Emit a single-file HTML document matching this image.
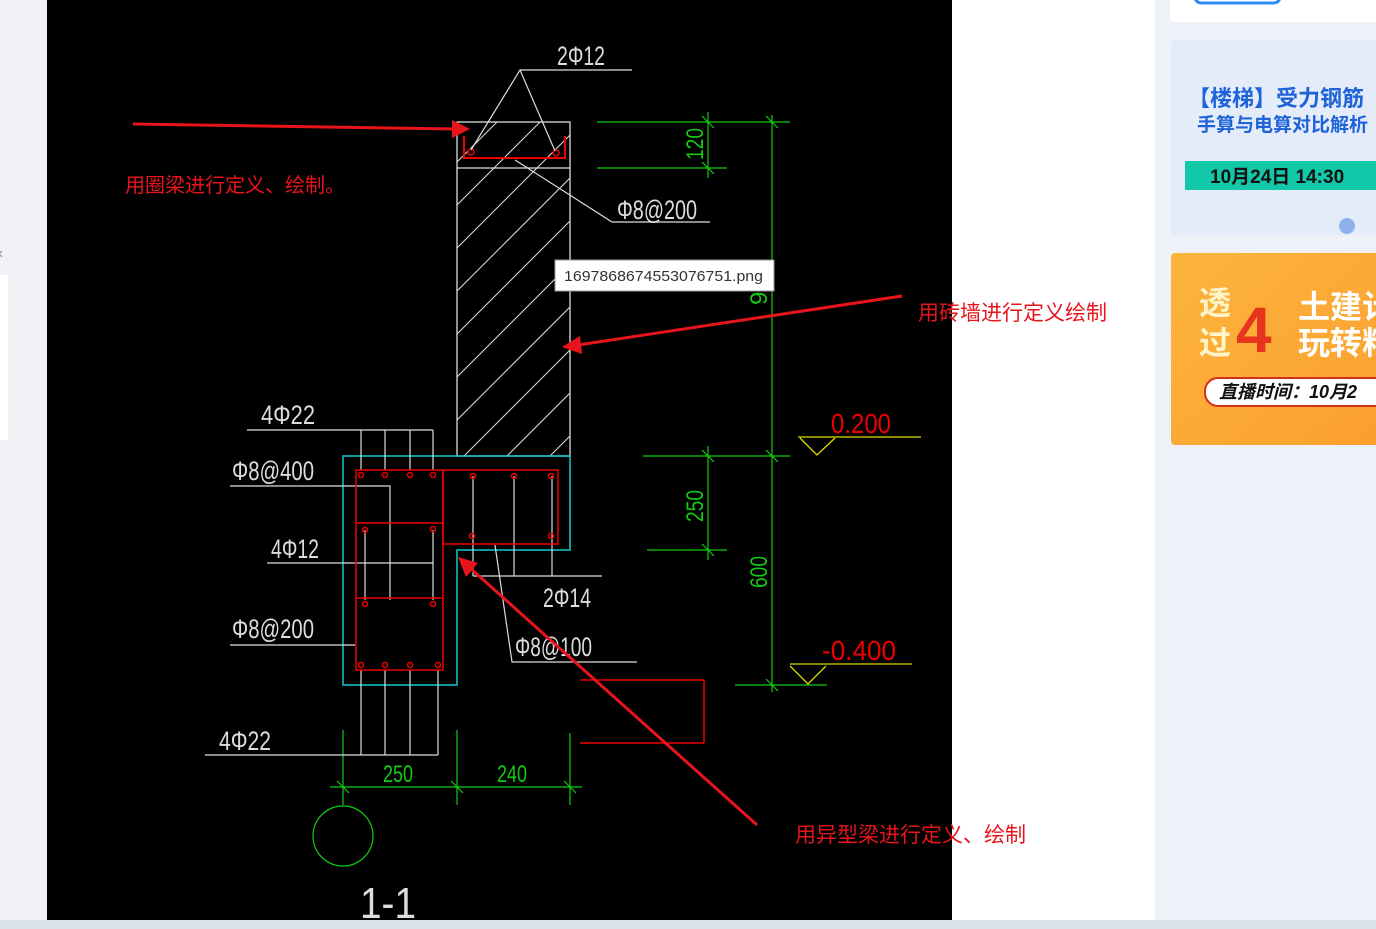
<!DOCTYPE html>
<html><head><meta charset="utf-8"><style>
html,body{margin:0;padding:0;width:1376px;height:929px;overflow:hidden;background:#eef1f8;}
svg{display:block}
.cad{font-family:"Liberation Sans Narrow","Liberation Sans",sans-serif;}
.cn{font-family:"Liberation Sans","Noto Sans CJK SC",sans-serif;}
</style></head><body>
<svg width="1376" height="929" viewBox="0 0 1376 929" xmlns="http://www.w3.org/2000/svg">
<defs>
<clipPath id="wall"><rect x="457" y="122" width="113" height="334"/></clipPath>
<linearGradient id="og" x1="0" y1="0" x2="1" y2="1"><stop offset="0" stop-color="#fcb53d"/><stop offset="1" stop-color="#fb9f2e"/></linearGradient>
</defs>
<rect x="0" y="0" width="1376" height="929" fill="#eef1f8"/>
<rect x="0" y="0" width="47" height="920" fill="#f0f2f6"/>
<rect x="0" y="275" width="8" height="165" fill="#fff"/>
<text x="-2" y="258" font-size="16" fill="#999" class="cad">‹</text>
<rect x="952" y="0" width="203" height="920" fill="#fff"/>
<rect x="0" y="920" width="1376" height="9" fill="#dde3ea"/>
<rect x="47" y="0" width="905" height="920" fill="#000"/>

<rect x="1170" y="-10" width="220" height="32" rx="4" fill="#fff"/>
<rect x="1195" y="-10" width="85" height="13" rx="6" fill="none" stroke="#2a8cf0" stroke-width="3"/>
<rect x="1171" y="40" width="210" height="195" rx="4" fill="#e4ecfa"/>
<text x="1188" y="106" font-size="22" font-weight="bold" fill="#1f63d8" class="cn">【楼梯】受力钢筋</text>
<text x="1197" y="131" font-size="19" font-weight="bold" fill="#1f63d8" class="cn">手算与电算对比解析</text>
<rect x="1185" y="161" width="195" height="29" fill="#12c8a8"/>
<text x="1210" y="183" font-size="19" font-weight="bold" fill="#111" class="cn">10月24日 14:30</text>
<circle cx="1347" cy="226" r="8" fill="#8fb1ee"/>
<rect x="1171" y="253" width="210" height="192" rx="4" fill="url(#og)"/>
<text x="1199" y="314" font-size="32" font-weight="bold" fill="#fff4c9" class="cn">透</text>
<text x="1199" y="354" font-size="32" font-weight="bold" fill="#fff4c9" class="cn">过</text>
<text x="1236" y="352" font-size="64" font-weight="bold" fill="#e8341c" class="cn">4</text>
<text x="1298" y="318" font-size="32" font-weight="bold" fill="#fff" class="cn">土建计</text>
<text x="1298" y="354" font-size="32" font-weight="bold" fill="#fff" class="cn">玩转料</text>
<rect x="1205" y="378" width="185" height="28" rx="13" fill="#fff" stroke="#d3301c" stroke-width="2"/>
<text x="1219" y="398" font-size="18" font-weight="bold" font-style="italic" fill="#111" class="cn">直播时间：10月2</text>

<g clip-path="url(#wall)" stroke="#ddd" stroke-width="1">
<line x1="420" y1="500" x2="800" y2="120"/>
<line x1="420" y1="457" x2="800" y2="77"/>
<line x1="420" y1="414" x2="800" y2="34"/>
<line x1="420" y1="371" x2="800" y2="-9"/>
<line x1="420" y1="328" x2="800" y2="-52"/>
<line x1="420" y1="285" x2="800" y2="-95"/>
<line x1="420" y1="242" x2="800" y2="-138"/>
<line x1="420" y1="199" x2="800" y2="-181"/>
<line x1="420" y1="543" x2="800" y2="163"/>
<line x1="420" y1="586" x2="800" y2="206"/>
<line x1="420" y1="629" x2="800" y2="249"/>
<line x1="420" y1="672" x2="800" y2="292"/>
<line x1="420" y1="715" x2="800" y2="335"/>
<line x1="420" y1="758" x2="800" y2="378"/>
<line x1="420" y1="801" x2="800" y2="421"/>
</g>
<g fill="none" stroke="#ddd" stroke-width="1.3">
<rect x="457" y="122" width="113" height="334"/>
<line x1="457" y1="168" x2="570" y2="168"/>
</g>
<path d="M464 136 V158 H565 V136" fill="none" stroke="#e00" stroke-width="2"/>
<circle cx="471" cy="152" r="3" fill="none" stroke="#e00" stroke-width="1.5"/>
<circle cx="556" cy="153" r="3" fill="none" stroke="#e00" stroke-width="1.5"/>
<g stroke="#ddd" stroke-width="1.2" fill="none">
<polyline points="471,150 520,70 555,151"/>
<line x1="520" y1="70" x2="632" y2="70"/>
<line x1="515" y1="160" x2="612" y2="222"/>
<line x1="612" y1="222" x2="710" y2="222"/>
</g>
<text x="557" y="65" font-size="27" fill="#ddd" class="cad" textLength="48" lengthAdjust="spacingAndGlyphs">2Φ12</text>
<text x="617" y="219" font-size="27" fill="#ddd" class="cad" textLength="80" lengthAdjust="spacingAndGlyphs">Φ8@200</text>

<g stroke="#1c1" stroke-width="1.2" fill="none">
<line x1="772" y1="115" x2="772" y2="692"/>
<line x1="597" y1="122" x2="790" y2="122"/>
<line x1="597" y1="168" x2="727" y2="168"/>
<line x1="708" y1="112" x2="708" y2="178"/>
<line x1="643" y1="456" x2="790" y2="456"/>
<line x1="647" y1="550" x2="727" y2="550"/>
<line x1="708" y1="446" x2="708" y2="560"/>
<line x1="735" y1="685" x2="827" y2="685"/>
<line x1="343" y1="730" x2="343" y2="805"/>
<line x1="457" y1="730" x2="457" y2="805"/>
<line x1="570" y1="733" x2="570" y2="805"/>
<line x1="330" y1="787" x2="582" y2="787"/>
<circle cx="343" cy="836" r="30"/>
<path d="M702 116l12 12M766 116l12 12M702 162l12 12M766 450l12 12M702 450l12 12M702 544l12 12M766 679l12 12M337 781l12 12M451 781l12 12M564 781l12 12"/>
</g>
<text font-size="24" fill="#1c1" class="cad" transform="translate(703,160) rotate(-90)" textLength="32" lengthAdjust="spacingAndGlyphs">120</text>
<text font-size="24" fill="#1c1" class="cad" transform="translate(703,522) rotate(-90)" textLength="32" lengthAdjust="spacingAndGlyphs">250</text>
<text font-size="24" fill="#1c1" class="cad" transform="translate(767,588) rotate(-90)" textLength="32" lengthAdjust="spacingAndGlyphs">600</text>
<text font-size="24" fill="#1c1" class="cad" transform="translate(767,305) rotate(-90)">90</text>
<text x="383" y="782" font-size="24" fill="#1c1" class="cad" textLength="30" lengthAdjust="spacingAndGlyphs">250</text>
<text x="497" y="782" font-size="24" fill="#1c1" class="cad" textLength="30" lengthAdjust="spacingAndGlyphs">240</text>

<text x="831" y="433" font-size="28" fill="#e00" class="cad" textLength="60" lengthAdjust="spacingAndGlyphs">0.200</text>
<g stroke="#dd0" stroke-width="1.3" fill="none">
<line x1="798" y1="437" x2="921" y2="437"/>
<polyline points="800,438 817,455 835,438"/>
<line x1="790" y1="664" x2="912" y2="664"/>
<polyline points="790,666 808,684 826,666"/>
</g>
<text x="822" y="660" font-size="28" fill="#e00" class="cad" textLength="74" lengthAdjust="spacingAndGlyphs">-0.400</text>

<path d="M343 456 H570 V550 H457 V685 H343 Z" fill="none" stroke="#1cc" stroke-width="1.5"/>
<g stroke="#ddd" stroke-width="1.2" fill="none">
<path d="M361 430V470M385 430V470M410 430V470M433 430V470"/>
<path d="M361 670V755M385 670V755M410 670V755M438 670V755"/>
<line x1="247" y1="430" x2="433" y2="430"/>
<line x1="205" y1="755" x2="438" y2="755"/>
<polyline points="230,486 390,486 390,600"/>
<line x1="267" y1="563" x2="433" y2="563"/>
<path d="M365 530V600M433 530V600"/>
<line x1="230" y1="645" x2="355" y2="645"/>
<path d="M473 476V576M514 476V576M552 476V576"/>
<line x1="473" y1="576" x2="602" y2="576"/>
<polyline points="495,545 512,662 637,662"/>
</g>
<g stroke="#e00" stroke-width="1.5" fill="none">
<rect x="356" y="470" width="87" height="200"/>
<rect x="443" y="470" width="115" height="74"/>
<line x1="356" y1="523" x2="443" y2="523"/>
<line x1="356" y1="598" x2="443" y2="598"/>
<line x1="580" y1="680" x2="704" y2="680"/>
<line x1="704" y1="680" x2="704" y2="743"/>
<line x1="580" y1="743" x2="704" y2="743"/>
<circle cx="361" cy="475" r="2.5"/><circle cx="385" cy="475" r="2.5"/><circle cx="410" cy="475" r="2.5"/><circle cx="433" cy="475" r="2.5"/>
<circle cx="473" cy="476" r="2.5"/><circle cx="514" cy="476" r="2.5"/><circle cx="551" cy="476" r="2.5"/>
<circle cx="472" cy="536" r="2.5"/><circle cx="551" cy="536" r="2.5"/>
<circle cx="365" cy="530" r="2.5"/><circle cx="433" cy="529" r="2.5"/>
<circle cx="365" cy="604" r="2.5"/><circle cx="433" cy="604" r="2.5"/>
<circle cx="361" cy="665" r="2.5"/><circle cx="385" cy="665" r="2.5"/><circle cx="410" cy="665" r="2.5"/><circle cx="438" cy="665" r="2.5"/>
</g>
<text x="261" y="424" font-size="27" fill="#ddd" class="cad" textLength="54" lengthAdjust="spacingAndGlyphs">4Φ22</text>
<text x="232" y="480" font-size="27" fill="#ddd" class="cad" textLength="82" lengthAdjust="spacingAndGlyphs">Φ8@400</text>
<text x="271" y="558" font-size="27" fill="#ddd" class="cad" textLength="48" lengthAdjust="spacingAndGlyphs">4Φ12</text>
<text x="232" y="638" font-size="27" fill="#ddd" class="cad" textLength="82" lengthAdjust="spacingAndGlyphs">Φ8@200</text>
<text x="219" y="750" font-size="27" fill="#ddd" class="cad" textLength="52" lengthAdjust="spacingAndGlyphs">4Φ22</text>
<text x="543" y="607" font-size="27" fill="#ddd" class="cad" textLength="48" lengthAdjust="spacingAndGlyphs">2Φ14</text>
<text x="515" y="656" font-size="27" fill="#ddd" class="cad" textLength="77" lengthAdjust="spacingAndGlyphs">Φ8@100</text>
<text x="360" y="918" font-size="44" fill="#ddd" class="cad" textLength="56" lengthAdjust="spacingAndGlyphs">1-1</text>

<rect x="555" y="260" width="219" height="31" fill="#fff" stroke="#999" stroke-width="1"/>
<text x="564" y="281" font-size="15" fill="#333" class="cn" textLength="199" lengthAdjust="spacingAndGlyphs">1697868674553076751.png</text>

<g stroke="#e8141c" stroke-width="3" fill="#e8141c">
<line x1="133" y1="124" x2="455" y2="129"/>
<polygon points="470,129 452,120 452,138" stroke="none"/>
<line x1="902" y1="296" x2="578" y2="345"/>
<polygon points="562,347 580,336 582,354" stroke="none"/>
<line x1="757" y1="825" x2="470" y2="568"/>
<polygon points="458,557 478,563 466,577" stroke="none"/>
</g>
<text x="125" y="192" font-size="20" fill="#e8141c" class="cn">用圈梁进行定义、绘制。</text>
<text x="918" y="320" font-size="21" fill="#e8141c" class="cn">用砖墙进行定义绘制</text>
<text x="795" y="842" font-size="21" fill="#e8141c" class="cn">用异型梁进行定义、绘制</text>
</svg>
</body></html>
